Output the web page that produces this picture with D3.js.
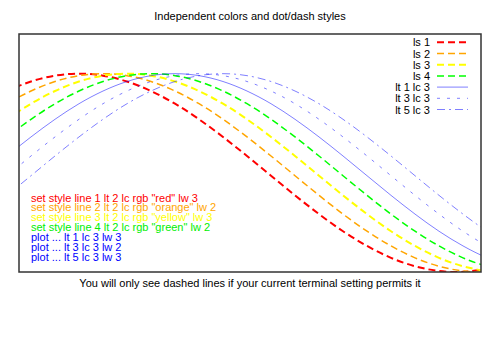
<!DOCTYPE html>
<html>
<head>
<meta charset="utf-8">
<script src="https://cdnjs.cloudflare.com/ajax/libs/d3/7.8.5/d3.min.js"></script>
<style>
  body { margin: 0; background: #fff; }
  svg text { font-family: "Liberation Sans", Arial, sans-serif; font-size: 11px; }
</style>
</head>
<body>
<div id="chart"></div>
<script>
// one period of the plotted curve (x in plot units)
var profileX = [-1.8, -1.6, -1.4, -1.2, -1.0, -0.8, -0.6, -0.4, -0.2, 0, 0.2, 0.4, 0.6,
  0.8, 1.0, 1.2, 1.4, 1.6, 1.8, 2.0, 2.2, 2.4, 2.6, 2.8, 3.0, 3.2, 3.4]
var profileY = [-0.227, -0.029, 0.170, 0.362, 0.540, 0.697, 0.825, 0.921, 0.980, 1.0, 0.980,
  0.921, 0.825, 0.697, 0.540, 0.362, 0.170, -0.029, -0.227, -0.416, -0.589, -0.737,
  -0.857, -0.942, -0.990, -0.998, -0.967]

// each series is the same shape shifted right
var seriesNames = ['ls 1', 'ls 2', 'ls 3', 'ls 4', 'lt 1 lc 3', 'lt 3 lc 3', 'lt 5 lc 3']
var seriesShift = [0, 0.2, 0.4, 0.6, 0.8, 1.0, 1.2]

var labelLines = [
  'set style line 1 lt 2 lc rgb "red" lw 3',
  'set style line 2 lt 2 lc rgb "orange" lw 2',
  'set style line 3 lt 2 lc rgb "yellow" lw 3',
  'set style line 4 lt 2 lc rgb "green" lw 2',
  'plot ... lt 1 lc 3 lw 3',
  'plot ... lt 3 lc 3 lw 2',
  'plot ... lt 5 lc 3 lw 3'
]

var styles = [
  {color: '#ff0000', width: 2, dash: '7,4', opacity: 1},
  {color: '#ffa500', width: 1.5, dash: '7,4', opacity: 1},
  {color: '#ffff00', width: 2, dash: '7,4', opacity: 1},
  {color: '#00ff00', width: 1.5, dash: '7,4', opacity: 1},
  {color: '#0000ff', width: 1, dash: null, opacity: 0.5},
  {color: '#0000ff', width: 1, dash: '3,7', opacity: 0.5},
  {color: '#0000ff', width: 1, dash: '8,4,2,4', opacity: 0.5}
]
var textColors = ['#ff0000', '#ffa500', '#ffff00', '#00ee00', '#0000ff', '#0000ff', '#0000ff']

var width = 500, height = 350
var margin = {left: 19, right: 19, top: 34, bottom: 78}

var x = d3.scaleLinear().domain([-0.5, 3.35]).range([margin.left, width - margin.right])
var y = d3.scaleLinear().domain([-1, 1.4]).range([height - margin.bottom, margin.top])

var svg = d3.select('#chart').append('svg')
  .attr('width', width)
  .attr('height', height)

svg.append('defs').append('clipPath').attr('id', 'clip')
  .append('rect')
  .attr('x', x.range()[0]).attr('y', y.range()[1])
  .attr('width', x.range()[1] - x.range()[0])
  .attr('height', y.range()[0] - y.range()[1])

var line = d3.line()
  .x(d => x(d[0]))
  .y(d => y(d[1]))
  .curve(d3.curveNatural)

svg.append('g')
  .attr('clip-path', 'url(#clip)')
  .selectAll('path')
  .data(seriesShift)
  .join('path')
    .attr('fill', 'none')
    .attr('stroke', (d, i) => styles[i].color)
    .attr('stroke-width', (d, i) => styles[i].width)
    .attr('stroke-opacity', (d, i) => styles[i].opacity)
    .attr('stroke-dasharray', (d, i) => styles[i].dash)
    .attr('d', s => line(profileX.map((px, j) => [px + s, profileY[j]])))

// border
svg.append('rect')
  .attr('x', x.range()[0]).attr('y', y.range()[1])
  .attr('width', x.range()[1] - x.range()[0])
  .attr('height', y.range()[0] - y.range()[1])
  .attr('fill', 'none')
  .attr('stroke', '#333')
  .attr('stroke-width', 1.5)

// title and xlabel
svg.append('text')
  .attr('x', width / 2).attr('y', 20)
  .attr('text-anchor', 'middle')
  .text('Independent colors and dot/dash styles')

svg.append('text')
  .attr('x', width / 2).attr('y', 287)
  .attr('text-anchor', 'middle')
  .text('You will only see dashed lines if your current terminal setting permits it')

// key
var key = svg.append('g')
  .selectAll('g')
  .data(seriesNames)
  .join('g')
    .attr('transform', (d, i) => `translate(0,${42.3 + i * 11.2})`)

key.append('text')
  .attr('x', 430).attr('y', 4)
  .attr('text-anchor', 'end')
  .text(d => d)

key.append('line')
  .attr('x1', 437).attr('x2', 468)
  .attr('stroke', (d, i) => styles[i].color)
  .attr('stroke-width', (d, i) => styles[i].width)
  .attr('stroke-opacity', (d, i) => styles[i].opacity)
  .attr('stroke-dasharray', (d, i) => styles[i].dash)

// the label block in the lower left
svg.append('g')
  .selectAll('text')
  .data(labelLines)
  .join('text')
    .attr('x', 31)
    .attr('y', (d, i) => 201.5 + i * 9.9)
    .attr('fill', (d, i) => textColors[i])
    .text(d => d)
</script>
</body>
</html>
